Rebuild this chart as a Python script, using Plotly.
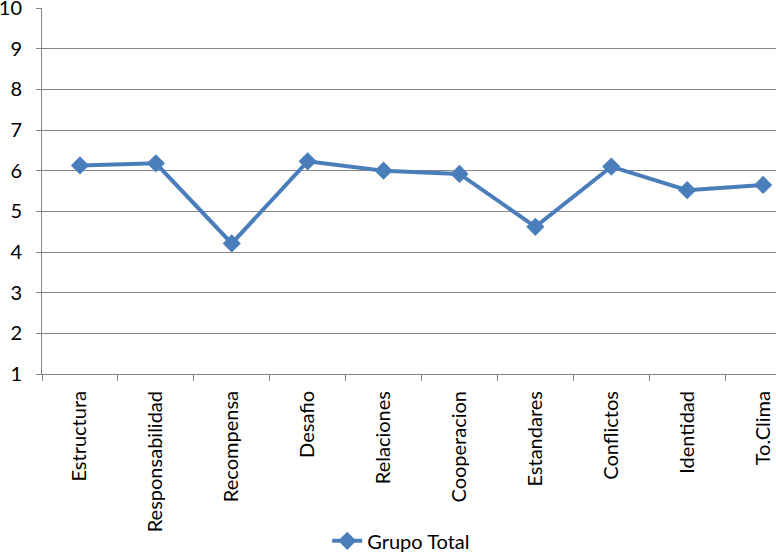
import plotly.graph_objects as go

categories = ["Estructura", "Responsabilidad", "Recompensa", "Desafio", "Relaciones",
              "Cooperacion", "Estandares", "Conflictos", "Identidad", "To.Clima"]
grupo_total = [6.13, 6.18, 4.21, 6.23, 6.0, 5.92, 4.62, 6.10, 5.52, 5.65]
y_ticks = [1, 2, 3, 4, 5, 6, 7, 8, 9, 10]

blue = "#4A7EBB"
grid = "#868686"
font_family = "Lato, 'Open Sans', sans-serif"

fig = go.Figure()
fig.add_trace(go.Scatter(
    x=categories, y=grupo_total, mode="lines+markers", name="Grupo Total",
    line=dict(color=blue, width=4),
    marker=dict(symbol="diamond", size=14, color=blue),
))

fig.update_layout(
    width=776, height=553,
    margin=dict(l=42, r=0, t=8, b=179, pad=0),
    paper_bgcolor="white", plot_bgcolor="white",
    font=dict(family=font_family, size=20, color="#000000"),
    showlegend=True,
    legend=dict(orientation="h", xref="container", x=0.517, xanchor="center",
                yref="container", y=0.022, yanchor="middle",
                font=dict(size=20), bgcolor="rgba(0,0,0,0)"),
    xaxis=dict(
        type="category", range=[-0.5, 9.17], tickangle=-90, automargin=False,
        showline=True, linecolor=grid, linewidth=1,
        showgrid=False, ticks="outside", tickson="boundaries", ticklen=6,
        tickcolor=grid, tickfont=dict(size=20), zeroline=False,
        ticklabelstandoff=8, ticklabeloverflow="allow",
    ),
    yaxis=dict(
        range=[1, 10], tickvals=y_ticks, ticktext=[str(v) for v in y_ticks],
        automargin=False,
        showline=True, linecolor=grid, linewidth=1,
        showgrid=True, gridcolor=grid, gridwidth=1,
        ticks="outside", ticklen=5, tickcolor=grid, tickfont=dict(size=20),
        zeroline=False, ticklabelstandoff=10, ticklabeloverflow="allow",
    ),
)

fig.write_html("out.html", config={"displayModeBar": False},
               post_script="document.body.style.margin='0px';")
